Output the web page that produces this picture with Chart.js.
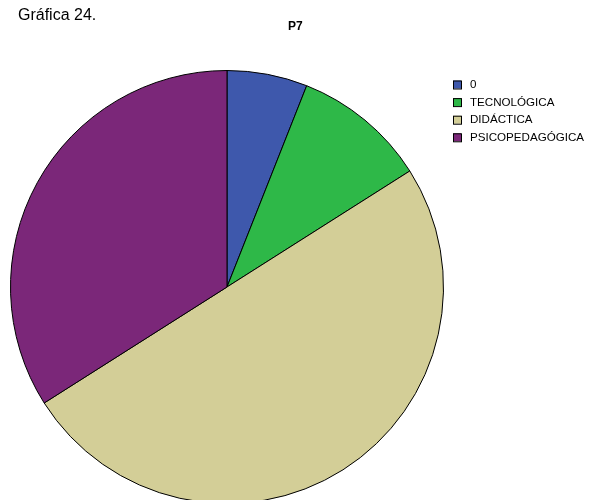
<!DOCTYPE html>
<html>
<head>
<meta charset="utf-8">
<script src="https://cdn.jsdelivr.net/npm/chart.js@4/dist/chart.umd.min.js"></script>
<style>
  html, body { margin: 0; padding: 0; background: #fff; overflow: hidden; }
  #wrap { position: relative; width: 589px; height: 510px; }
</style>
</head>
<body>
<div id="wrap"><canvas id="chart" width="589" height="510"></canvas></div>
<script>
const categories = ['0', 'TECNOLÓGICA', 'DIDÁCTICA', 'PSICOPEDAGÓGICA'];
const counts = [3, 5, 25, 17];
const colors = ['#3e58ac', '#2eb848', '#d3ce97', '#7b2779'];

// heading and legend drawn by hand, like the original export
const textPlugin = {
    id: 'texts',
    afterDraw(chart) {
        const ctx = chart.ctx;
        ctx.save();
        ctx.fillStyle = '#000';
        ctx.textBaseline = 'alphabetic';
        ctx.font = '16px "Liberation Sans", Arial, sans-serif';
        ctx.fillText('Gráfica 24.', 18, 20);
        ctx.font = 'bold 12px "Liberation Sans", Arial, sans-serif';
        ctx.fillText('P7', 288, 30);

        ctx.font = '11.6px "Liberation Sans", Arial, sans-serif';
        ctx.textBaseline = 'middle';
        chart.data.labels.forEach((lab, i) => {
            const y = 84.5 + i * 17.6;
            ctx.fillStyle = colors[i];
            ctx.fillRect(453, y - 4, 8, 8);
            ctx.strokeStyle = '#000';
            ctx.lineWidth = 1;
            ctx.strokeRect(453.5, y - 3.5, 8, 8);
            ctx.fillStyle = '#000';
            ctx.fillText(lab, 470, y + 0.5);
        });
        ctx.restore();
    }
};

new Chart(document.getElementById('chart').getContext('2d'), {
    type: 'pie',
    data: {
        labels: categories,
        datasets: [{
            data: counts,
            backgroundColor: colors,
            borderColor: '#000',
            borderWidth: 1
        }]
    },
    options: {
        responsive: false,
        animation: false,
        layout: { padding: { left: 10, top: 70, right: 145, bottom: 6 } },
        plugins: {
            legend: { display: false },
            tooltip: { enabled: false }
        }
    },
    plugins: [textPlugin]
});
</script>
</body>
</html>
